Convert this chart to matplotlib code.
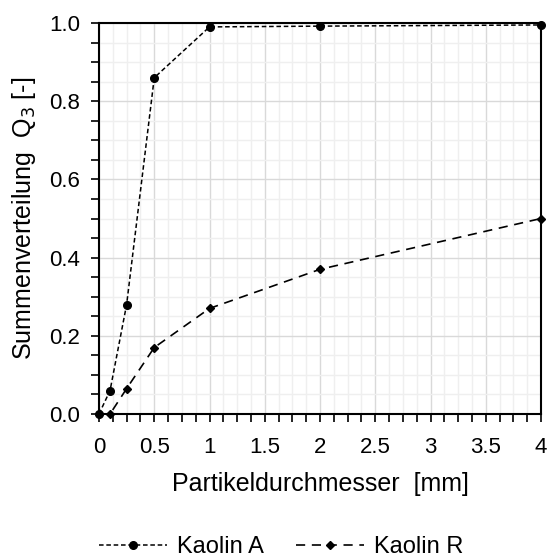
import matplotlib
matplotlib.use("Agg")
import matplotlib.pyplot as plt
from matplotlib.ticker import MultipleLocator, FuncFormatter

plt.rcParams['font.family'] = ['Liberation Sans', 'DejaVu Sans']

x_A = [0, 0.1, 0.25, 0.5, 1, 2, 4]
q_A = [0, 0.06, 0.28, 0.86, 0.99, 0.992, 0.995]
x_R = [0, 0.1, 0.25, 0.5, 1, 2, 4]
q_R = [0, 0.0, 0.065, 0.17, 0.27, 0.37, 0.50]
labels = ["Kaolin A", "Kaolin R"]

fig = plt.figure(figsize=(5.47, 5.58), dpi=100)
ax = fig.add_axes([99/547, 1-414/558, (541-99)/547, (414-23)/558])

ax.plot(x_A, q_A, color='black', linestyle=(0, (3, 1.8)), linewidth=1.1,
        marker='o', markersize=5.5, label=labels[0], clip_on=False, zorder=5)
ax.plot(x_R, q_R, color='black', linestyle=(0, (5.5, 4)), linewidth=1.2,
        marker='D', markersize=4, label=labels[1], clip_on=False, zorder=5)

ax.set_xlim(0, 4)
ax.set_ylim(0, 1)
ax.xaxis.set_major_locator(MultipleLocator(0.5))
ax.xaxis.set_minor_locator(MultipleLocator(0.125))
ax.yaxis.set_major_locator(MultipleLocator(0.2))
ax.yaxis.set_minor_locator(MultipleLocator(0.05))
ax.xaxis.set_major_formatter(FuncFormatter(lambda v, p: f"{v:g}"))
ax.yaxis.set_major_formatter(FuncFormatter(lambda v, p: f"{v:.1f}"))

ax.grid(which='major', color='#d9d9d9', linewidth=1.0)
ax.grid(which='minor', color='#efefef', linewidth=1.0)
ax.set_axisbelow(True)

for s in ax.spines.values():
    s.set_color('black')
    s.set_linewidth(1.5)

ax.tick_params(which='both', direction='out', color='black', width=1.2, labelsize=16)
ax.tick_params(which='both', length=5.5)
ax.tick_params(axis='x', which='major', pad=11)
ax.tick_params(axis='y', which='major', pad=8)

ax.set_xlabel("Partikeldurchmesser  [mm]", fontsize=18, labelpad=10)
ax.set_ylabel("Summenverteilung  Q$_3$ [-]", fontsize=18, labelpad=8)

fig.legend(loc='center', bbox_to_anchor=(281/547, 1-547/558), ncol=2, frameon=False,
           fontsize=17, handlelength=2.9, columnspacing=1.35, handletextpad=0.4,
           borderpad=0.1)

fig.savefig("out.png", dpi=100)
